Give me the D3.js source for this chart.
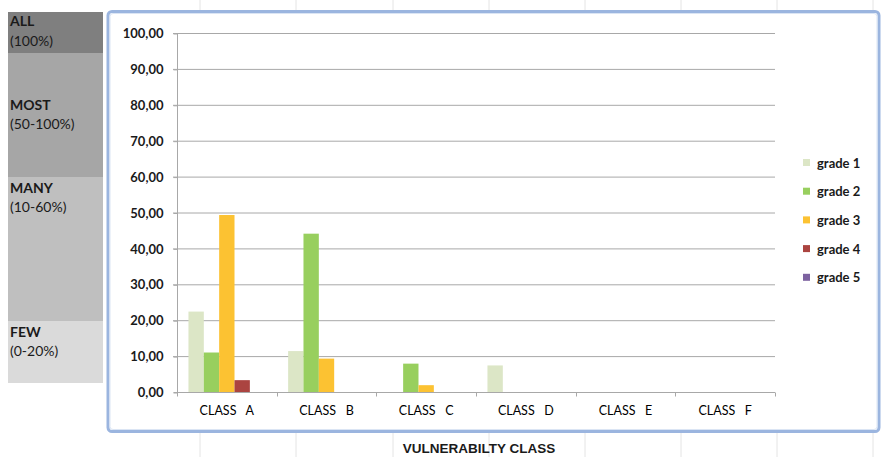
<!DOCTYPE html>
<html>
<head>
<meta charset="utf-8">
<script src="https://cdn.jsdelivr.net/npm/d3@7"></script>
<style>
  body { margin: 0; background: #fff; }
  svg { display: block; font-family: Lato, "Open Sans", sans-serif; }
</style>
</head>
<body>
<div id="chart"></div>
<script>
var width = 883, height = 457;

// data
var classes = ["CLASS   A", "CLASS   B", "CLASS   C", "CLASS   D", "CLASS   E", "CLASS   F"];
var grades = ["grade 1", "grade 2", "grade 3", "grade 4", "grade 5"];
var grade1 = [22.4, 11.4, 0, 7.4, 0, 0];
var grade2 = [11.0, 44.1, 7.9, 0, 0, 0];
var grade3 = [49.3, 9.3, 1.9, 0, 0, 0];
var grade4 = [3.3, 0, 0, 0, 0, 0];
var grade5 = [0, 0, 0, 0, 0, 0];
var series = [grade1, grade2, grade3, grade4, grade5];
var yTicks = [0, 10, 20, 30, 40, 50, 60, 70, 80, 90, 100];

// left side classes (range boxes)
var rangeNames = ["ALL", "MOST", "MANY", "FEW"];
var rangeSub = ["(100%)", "(50-100%)", "(10-60%)", "(0-20%)"];

var colors = ["#dce6c6", "#98cf5e", "#fcc232", "#ab4440", "#7d62a0"];

var svg = d3.select("#chart").append("svg")
  .attr("width", width).attr("height", height);

// spreadsheet column lines behind everything
var colLines = [200, 296, 393, 489, 585, 681, 777, 873];
svg.append("g").selectAll("line").data(colLines).join("line")
  .attr("x1", d => d).attr("x2", d => d)
  .attr("y1", 0).attr("y2", height)
  .attr("stroke", "#e4e4e4").attr("stroke-width", 1);

// left boxes
var boxes = [
  { y0: 12, y1: 53, fill: "#7f7f7f", t1: 26, t2: 46 },
  { y0: 53, y1: 177, fill: "#a6a6a6", t1: 110, t2: 129 },
  { y0: 177, y1: 321, fill: "#bfbfbf", t1: 193, t2: 212 },
  { y0: 321, y1: 383, fill: "#dadada", t1: 337, t2: 356 }
];
var left = svg.append("g");
boxes.forEach(function(b, i) {
  left.append("rect").attr("x", 8).attr("y", b.y0)
    .attr("width", 95).attr("height", b.y1 - b.y0).attr("fill", b.fill);
  left.append("text").attr("x", 10).attr("y", b.t1)
    .attr("font-size", 14).attr("font-weight", "bold").attr("fill", "#1a1a1a")
    .text(rangeNames[i]);
  left.append("text").attr("x", 10).attr("y", b.t2)
    .attr("font-size", 14).attr("fill", "#1a1a1a")
    .text(rangeSub[i]);
});

// chart frame
svg.append("rect").attr("x", 108).attr("y", 11.5)
  .attr("width", 771).attr("height", 420).attr("rx", 4)
  .attr("fill", "#fff").attr("stroke", "#9bb5df").attr("stroke-width", 3);
svg.append("rect").attr("x", 110).attr("y", 13.5)
  .attr("width", 767).attr("height", 416).attr("rx", 3)
  .attr("fill", "none").attr("stroke", "#dbe5f4").attr("stroke-width", 1);

// scales
var x0 = d3.scaleBand().domain(classes).range([177, 775]);
var bw = x0.bandwidth();
var x1 = d3.scaleBand().domain(grades).range([bw * 0.115, bw * 0.885]);
var y = d3.scaleLinear().domain([0, 100]).range([392, 33]);

// gridlines
svg.append("g").selectAll("line").data(yTicks.filter(d => d > 0)).join("line")
  .attr("x1", 173).attr("x2", 775)
  .attr("y1", d => y(d) + 0.5).attr("y2", d => y(d) + 0.5)
  .attr("stroke", "#a8a8a8").attr("stroke-width", 1);

// y axis
var yAxis = svg.append("g").attr("transform", "translate(177.5,0.5)")
  .call(d3.axisLeft(y).tickValues(yTicks).tickSize(4).tickPadding(10)
    .tickFormat(d => d3.format(".2f")(d).replace(".", ",")));
yAxis.select(".domain").attr("stroke", "#a8a8a8").attr("d", "M-4," + y(100) + "H0V" + y(0) + "H-4");
yAxis.selectAll(".tick line").attr("stroke", "#a8a8a8");
yAxis.selectAll(".tick text").attr("font-size", 13).attr("font-weight", "bold")
  .attr("fill", "#1a1a1a").attr("font-family", "Lato, sans-serif");

// bars
var groups = svg.append("g").selectAll("g").data(classes).join("g")
  .attr("transform", d => "translate(" + x0(d) + ",0)");
groups.selectAll("rect")
  .data((d, i) => series.map((s, j) => ({ grade: grades[j], value: s[i], k: j })))
  .join("rect")
  .attr("x", d => x1(d.grade))
  .attr("width", x1.bandwidth())
  .attr("y", d => y(d.value))
  .attr("height", d => y(0) - y(d.value))
  .attr("fill", d => colors[d.k]);

// x axis
var xAxis = svg.append("g").attr("transform", "translate(0," + (y(0) + 0.5) + ")")
  .call(d3.axisBottom(x0).tickSize(0).tickPadding(14));
xAxis.select(".domain").attr("stroke", "#a8a8a8").attr("d", "M177,0H775");
xAxis.selectAll(".tick text").attr("font-size", 12.5).attr("fill", "#000")
  .attr("font-family", "Lato, sans-serif").style("white-space", "pre");
// category boundary ticks
var bounds = classes.map(c => x0(c)).concat([x0(classes[classes.length - 1]) + bw]);
xAxis.append("g").selectAll("line").data(bounds).join("line")
  .attr("x1", d => Math.round(d) + 0.5).attr("x2", d => Math.round(d) + 0.5)
  .attr("y1", 0).attr("y2", 4).attr("stroke", "#a8a8a8");

// legend
var legend = svg.append("g").selectAll("g").data(grades).join("g")
  .attr("transform", (d, i) => "translate(803," + (163 + i * 28.7) + ")");
legend.append("rect").attr("x", 0).attr("y", -4).attr("width", 7).attr("height", 7)
  .attr("fill", (d, i) => colors[i]);
legend.append("text").attr("x", 14).attr("y", 4.5)
  .attr("font-size", 13).attr("font-weight", "bold").attr("fill", "#1a1a1a")
  .text(d => d);

// axis title
svg.append("text").attr("x", 479).attr("y", 453).attr("text-anchor", "middle")
  .attr("font-family", "'Liberation Sans', Arial, sans-serif")
  .attr("font-size", 13.5).attr("font-weight", "bold").attr("fill", "#1a1a1a")
  .text("VULNERABILTY CLASS");
</script>
</body>
</html>
